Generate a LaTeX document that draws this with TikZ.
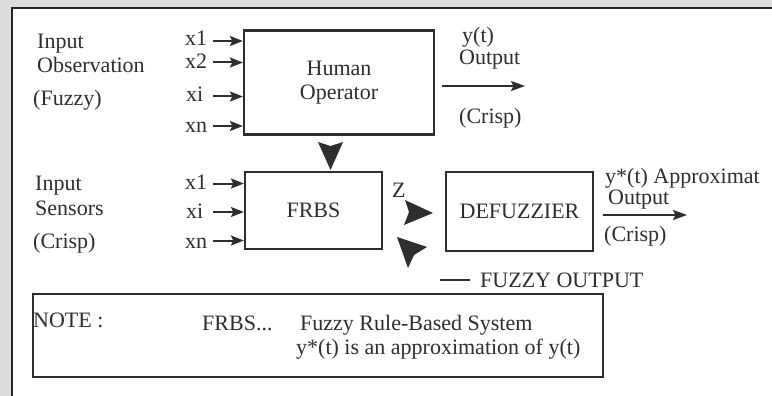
\documentclass[tikz,border=0pt]{standalone}
\usepackage{fontspec}
\setmainfont{Liberation Serif}
\usetikzlibrary{arrows.meta}
\definecolor{ink}{HTML}{2E2E2E}
\definecolor{frame}{HTML}{DCDCDC}
\begin{document}
\begin{tikzpicture}[x=1pt,y=-1pt,
  every node/.style={font=\fontsize{22}{24}\selectfont, text=ink, inner sep=0pt},
  lbl/.style={anchor=base west},
  blk/.style={draw=ink, line width=2.2pt},
  inarr/.style={draw=ink, line width=2pt, -{Stealth[length=13pt,width=10pt,inset=2.5pt]}},
  outarr/.style={draw=ink, line width=2pt, -{Stealth[length=14pt,width=10pt,inset=2.5pt]}}]
\useasboundingbox (0,0) rectangle (772,396);
% page frame
\fill[frame] (0,0) rectangle (772,396);
\fill[white] (12,8) rectangle (772,396);
\draw[line width=1.5pt, black!85] (12,396) -- (12,8) -- (772,8);

% blocks
\node[blk, minimum width=190pt, minimum height=104pt, align=center] (ho) at (339,82.5) {Human\\Operator};
\node[blk, minimum width=137pt, minimum height=77pt] (frbs) at (313.5,210.5) {FRBS};
\node[blk, minimum width=147pt, minimum height=79pt] (defz) at (519.5,211.5) {DEFUZZIER};
\node[blk, minimum width=570pt, minimum height=83pt] (note) at (318,335.5) {};

% observation inputs
\node[lbl] (obs1) at (37,49) {Input};
\node[lbl] (obs2) at (37,73) {Observation};
\node[lbl] (obs3) at (33,106) {(Fuzzy)};
\node[lbl] (hx1) at (185,46) {x1};
\node[lbl] (hx2) at (185,69) {x2};
\node[lbl] (hxi) at (186,102) {xi};
\node[lbl] (hxn) at (185,132) {xn};
\coordinate (hs1) at (213,41);
\coordinate (hs2) at (213,62.5);
\coordinate (hsi) at (213,96.5);
\coordinate (hsn) at (213,126);
\foreach \s in {hs1,hs2,hsi,hsn}
  \draw[inarr] (\s) -- (\s -| ho.west);

% sensor inputs
\node[lbl] (sen1) at (35,190) {Input};
\node[lbl] (sen2) at (35,215) {Sensors};
\node[lbl] (sen3) at (33,248) {(Crisp)};
\node[lbl] (fx1) at (185,189) {x1};
\node[lbl] (fxi) at (186,218) {xi};
\node[lbl] (fxn) at (185,248) {xn};
\coordinate (fs1) at (213,183.5);
\coordinate (fsi) at (213,212);
\coordinate (fsn) at (213,240.5);
\foreach \s in {fs1,fsi,fsn}
  \draw[inarr] (\s) -- (\s -| frbs.west);

% operator output
\node[lbl] (yt) at (462,43) {y(t)};
\node[lbl] (yout) at (459,65) {Output};
\node[lbl] (ycr) at (459,124) {(Crisp)};
\coordinate (yend) at (525,86);
\path (ho.east |- yend) coordinate (ystart);
\draw[outarr] ([xshift=7pt]ystart) -- (yend);

% operator to FRBS
\fill[ink] (318,142) -- (330.5,146) -- (343,142) -- (330.5,170) -- cycle;

% FRBS to defuzzifier
\node[lbl] (zl) at (392,197) {Z};
\fill[ink] (405,200) -- (409,212) -- (404,225) -- (433,213) -- cycle;
\fill[ink] (397,237) -- (427,247) -- (414,255) -- (408,268) -- cycle;

% defuzzifier output
\node[lbl] (ys) at (605,183) {y*(t) Approximat};
\node[lbl] (yso) at (608,204) {Output};
\node[lbl] (ysc) at (604,241) {(Crisp)};
\coordinate (dend) at (687,215);
\path (defz.east |- dend) coordinate (dstart);
\draw[outarr] ([xshift=9pt]dstart) -- (dend);

% legend
\node[lbl] (fo) at (480,287) {FUZZY OUTPUT};
\draw[ink, line width=2pt] ([xshift=-10pt]fo.west) -- ++(-30,0);

% note text
\node[lbl] (nt) at (33,327) {NOTE :};
\node[lbl] (nf) at (202,330) {FRBS...};
\node[lbl] (nd) at (300,330) {Fuzzy Rule-Based System};
\node[lbl] (na) at (296,354) {y*(t) is an approximation of y(t)};
\end{tikzpicture}
\end{document}
